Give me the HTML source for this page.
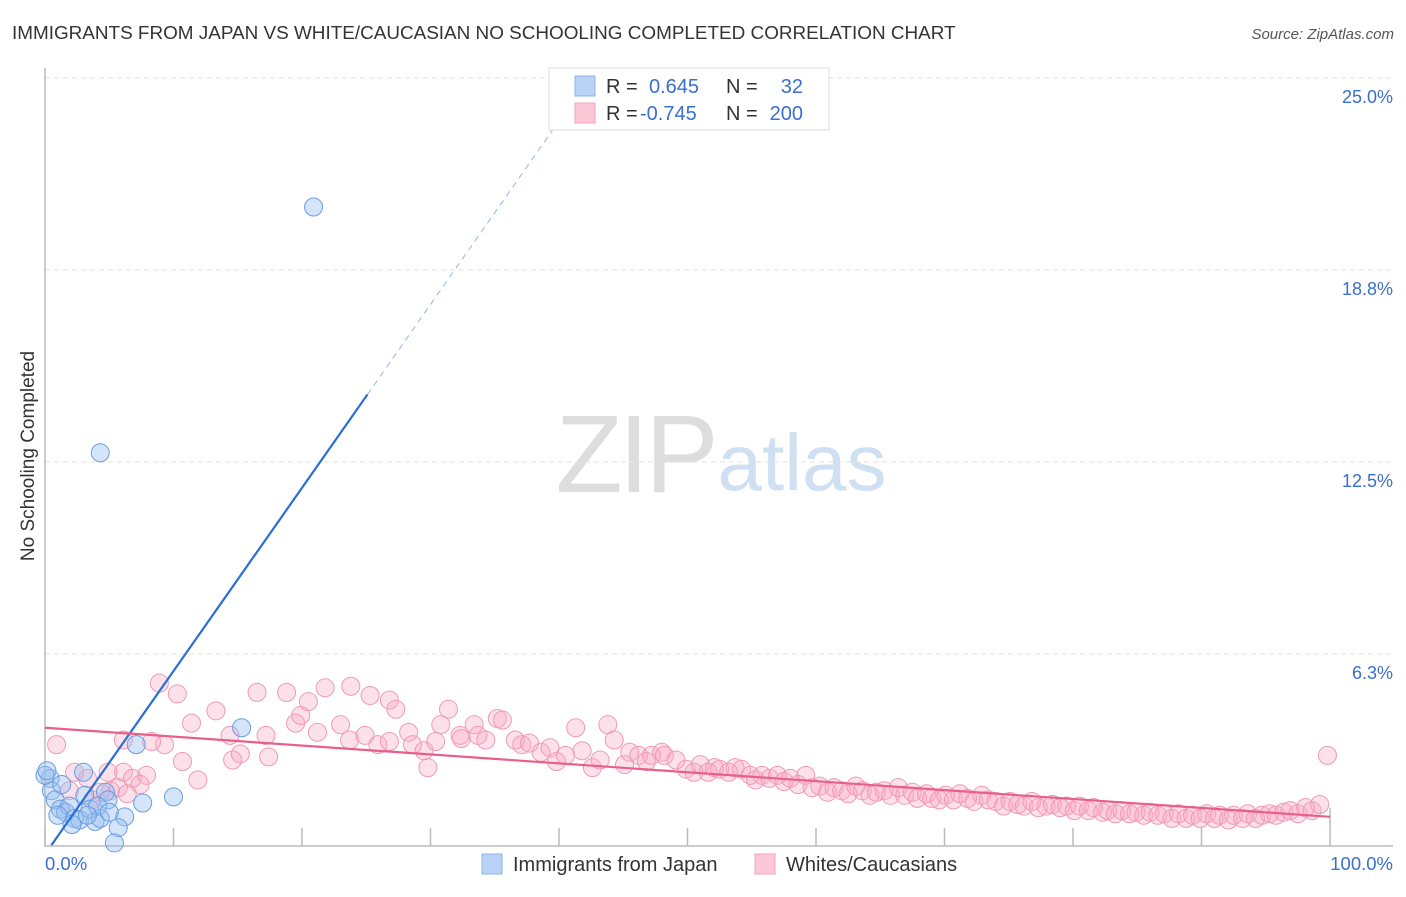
<!DOCTYPE html>
<html><head><meta charset="utf-8"><style>
body{margin:0;background:#fff;font-family:"Liberation Sans",sans-serif;}
svg text{font-family:"Liberation Sans",sans-serif;}
</style></head><body>
<svg id="chart" width="1406" height="892" xmlns="http://www.w3.org/2000/svg">
<text x="12" y="39" font-size="18.9" fill="#333">IMMIGRANTS FROM JAPAN VS WHITE/CAUCASIAN NO SCHOOLING COMPLETED CORRELATION CHART</text>
<text x="1394" y="39" font-size="15" fill="#555" text-anchor="end" font-style="italic">Source: ZipAtlas.com</text>
<text transform="translate(34,456) rotate(-90)" font-size="19" fill="#333" text-anchor="middle">No Schooling Completed</text>
<g>
<text x="635" y="492" font-size="110" fill="#ddd" text-anchor="middle" font-family="Liberation Serif" letter-spacing="-4">ZIP</text>
<text x="802" y="490" font-size="80" fill="#cfe0f3" text-anchor="middle">atlas</text>
</g>
<g id="grid"></g><g id="axes"></g><g id="pinkpts"></g><g id="bluepts"></g><g id="lines"></g>
<g>
<rect x="549" y="68" width="280" height="62" fill="#fff" stroke="#ddd"/>
<rect x="575" y="76" width="20" height="20" fill="#b8d3f5" stroke="#8fb5e8"/>
<rect x="575" y="103" width="20" height="20" fill="#fcc7d6" stroke="#f2a4bb"/>
<text x="606" y="93" font-size="20" fill="#333">R = </text><text x="649" y="93" font-size="20" fill="#3a6fd0">0.645</text>
<text x="726" y="93" font-size="20" fill="#333">N = </text><text x="803" y="93" font-size="20" fill="#3a6fd0" text-anchor="end">32</text>
<text x="606" y="120" font-size="20" fill="#333">R = </text><text x="640" y="120" font-size="20" fill="#3a6fd0">-0.745</text>
<text x="726" y="120" font-size="20" fill="#333">N = </text><text x="803" y="120" font-size="20" fill="#3a6fd0" text-anchor="end">200</text>
</g>
<g>
<rect x="482" y="854" width="20" height="20" fill="#b8d3f5" stroke="#8fb5e8"/>
<text x="513" y="871" font-size="20" fill="#333">Immigrants from Japan</text>
<rect x="755" y="854" width="20" height="20" fill="#fcc7d6" stroke="#f2a4bb"/>
<text x="786" y="871" font-size="20" fill="#333">Whites/Caucasians</text>
</g>
</svg>
<script>
const yTicks=[25,18.75,12.5,6.25];
const yTickLabels=["25.0%","18.8%","12.5%","6.3%"];
const xTicks=[0,10,20,30,40,50,60,70,80,90,100];
const blueX=[20.9,4.3,15.3,7.1,10.0,7.6,6.2,5.7,5.4,0.4,0.5,0.8,1.2,1.6,1.9,2.3,2.7,3.1,3.5,3.9,4.3,4.7,4.9,4.1,0,3.0,1.3,2.1,1.0,5.0,3.3,0.15];
const blueY=[20.8,12.8,3.85,3.3,1.6,1.4,0.95,0.6,0.1,2.2,1.8,1.5,1.2,1.1,1.3,0.9,0.85,1.65,1.2,0.8,0.9,1.75,1.5,1.3,2.3,2.4,2.0,0.7,1.0,1.1,1.0,2.45];
const pinkX=[0.9,8.9,10.3,11.4,13.3,14.6,9.3,10.7,11.9,6.1,6.8,7.9,7.4,5.1,4.3,5.7,8.3,6.1,2.3,3.3,1.9,3.7,4.9,6.4,16.5,18.8,21.8,23.8,25.3,26.8,27.3,31.4,28.3,30.8,33.4,35.2,35.6,14.4,15.2,17.2,17.4,19.5,19.9,20.5,21.2,23.0,23.7,24.9,25.9,26.8,28.6,29.5,29.8,30.4,32.3,32.4,33.7,34.3,36.6,37.1,37.7,38.6,39.3,39.8,40.5,41.3,41.8,42.6,43.2,43.8,44.3,45.1,45.5,46.2,46.8,47.2,48.0,48.2,49.1,49.9,50.5,51.0,51.6,52.1,52.5,53.2,53.7,54.2,54.9,55.3,55.8,56.4,57.0,57.5,58.0,58.6,59.2,59.7,60.3,60.9,61.4,62.0,62.5,63.1,63.6,64.2,64.7,65.3,65.8,66.4,66.9,67.5,67.9,68.6,69.0,69.6,70.1,70.7,71.2,71.8,72.3,72.9,73.4,74.0,74.6,75.1,75.7,76.2,76.8,77.3,77.9,78.4,79.0,79.5,80.1,80.5,81.2,81.6,82.3,82.7,83.3,83.8,84.4,84.9,85.5,86.0,86.6,87.1,87.7,88.2,88.8,89.3,89.9,90.4,91.0,91.4,92.1,92.5,93.2,93.6,94.2,94.7,95.3,95.8,96.4,96.9,97.5,98.1,98.6,99.2,99.8];
const pinkY=[3.3,5.3,4.95,4.0,4.4,2.8,3.3,2.75,2.15,2.4,2.2,2.3,2.0,1.8,1.75,1.9,3.4,3.45,2.4,2.2,1.8,1.5,2.4,1.7,5.0,5.0,5.15,5.2,4.9,4.75,4.45,4.45,3.7,3.95,3.95,4.15,4.1,3.6,3.0,3.6,2.9,4.0,4.25,4.7,3.7,3.95,3.45,3.6,3.3,3.4,3.3,3.1,2.55,3.4,3.6,3.5,3.6,3.45,3.45,3.3,3.35,3.05,3.2,2.75,2.95,3.85,3.1,2.55,2.8,3.95,3.45,2.65,3.05,2.95,2.75,2.95,3.05,2.95,2.8,2.5,2.4,2.65,2.4,2.55,2.5,2.4,2.55,2.5,2.3,2.15,2.3,2.2,2.3,2.1,2.2,2.0,2.3,1.9,1.95,1.75,1.9,1.8,1.7,1.95,1.8,1.65,1.75,1.8,1.65,1.9,1.65,1.75,1.55,1.7,1.55,1.5,1.65,1.5,1.7,1.55,1.45,1.65,1.5,1.45,1.3,1.45,1.35,1.3,1.45,1.25,1.3,1.35,1.25,1.3,1.15,1.3,1.15,1.25,1.1,1.15,1.05,1.15,1.05,1.1,1.0,1.1,1.0,1.05,0.9,1.05,0.9,1.0,0.9,1.05,0.9,1.0,0.85,1.0,0.9,1.05,0.9,1.0,1.05,1.0,1.1,1.15,1.05,1.25,1.15,1.35,2.95];
const blueTrend=[[0.5,0.03],[25.1,14.7],[40,23.6]];
const pinkTrend=[[0,3.85],[100,0.95]];
const X0=45,X1=1330,Y0=846,Y25=78;
const sx=v=>X0+(X1-X0)*v/100, sy=v=>Y0-(Y0-Y25)*v/25;
const NS="http://www.w3.org/2000/svg";
function mk(p,t,a){const e=document.createElementNS(NS,t);for(const k in a)e.setAttribute(k,a[k]);document.getElementById(p).appendChild(e);return e;}
yTicks.forEach((v,i)=>{
 const g=mk('grid','line',{x1:X0,x2:1393,y1:sy(v),y2:sy(v),stroke:'#e2e2e2','stroke-dasharray':'5,4'});
 
 
 const t=mk('grid','text',{x:1393,y:sy(v)+25,'font-size':18,fill:'#3a6fd0','text-anchor':'end'});
 t.textContent=yTickLabels[i];
 
 
});
const ax=mk('axes','path',{d:`M${X0},68 V${Y0} H1393`,stroke:'#bbb',fill:'none','stroke-width':1.5});


xTicks.forEach((v,i)=>{
 const l=mk('axes','line',{x1:sx(v),x2:sx(v),y1:Y0,y2:i==xTicks.length-1?808:828,stroke:'#bbb','stroke-width':1.5});
 
 
});
[[0,"0.0%",'start',45],[100,"100.0%",'end',1393]].forEach(d=>{
 const t=mk('axes','text',{x:d[3],y:870,'font-size':18.5,fill:'#3a6fd0','text-anchor':d[2]});
 t.textContent=d[1];
 
 
});
pinkX.forEach((v,i)=>{
 const c=mk('pinkpts','circle',{cx:sx(v),cy:sy(pinkY[i]),r:9,fill:'rgba(248,170,195,0.35)',stroke:'#f09ab5','stroke-width':1});
 
 
});
blueX.forEach((v,i)=>{
 const c=mk('bluepts','circle',{cx:sx(v),cy:sy(blueY[i]),r:9,fill:'rgba(150,190,240,0.4)',stroke:'#6a9ddf','stroke-width':1});
 
 
});
const b1=mk('lines','line',{x1:sx(blueTrend[0][0]),y1:sy(blueTrend[0][1]),x2:sx(blueTrend[1][0]),y2:sy(blueTrend[1][1]),stroke:'#2a6fd6','stroke-width':2.2});


const b2=mk('lines','line',{x1:sx(blueTrend[1][0]),y1:sy(blueTrend[1][1]),x2:sx(blueTrend[2][0]),y2:sy(blueTrend[2][1]),stroke:'#8fb5e8','stroke-width':1,'stroke-dasharray':'6,5'});


const p1=mk('lines','line',{x1:sx(pinkTrend[0][0]),y1:sy(pinkTrend[0][1]),x2:sx(pinkTrend[1][0]),y2:sy(pinkTrend[1][1]),stroke:'#e8608a','stroke-width':2.2});


</script>
</body></html>
